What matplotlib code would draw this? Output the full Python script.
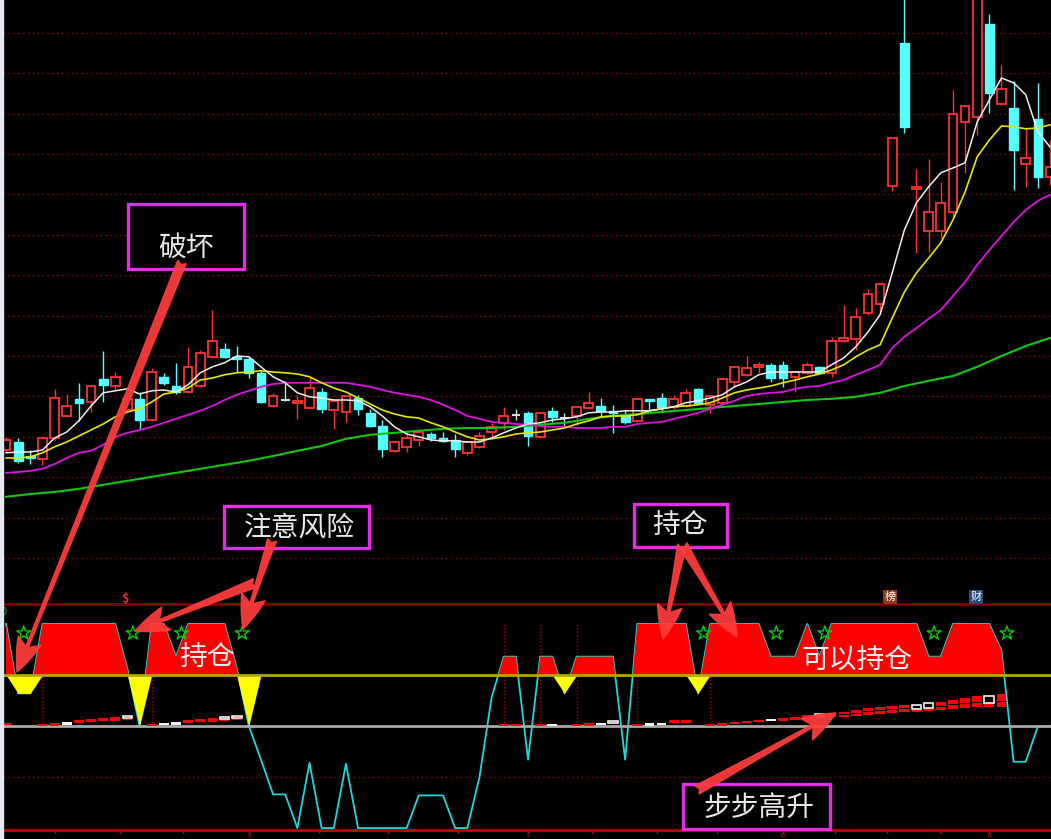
import numpy as np
import matplotlib
matplotlib.use("Agg")
import matplotlib.pyplot as plt
from matplotlib.patches import Rectangle

plt.rcParams['font.family'] = ['Noto Sans CJK SC', 'DejaVu Sans']

# ---- 主图 K线 (开 高 低 收) ----
opens = [3.75, 3.95, 3.60, 3.53, 4.05, 4.60, 5.03, 4.95, 5.53, 5.35,
         4.75, 5.03, 4.50, 5.58, 5.35, 5.20, 5.35, 6.08, 6.28, 6.08,
         6.03, 5.68, 4.85, 5.00, 4.93, 4.80, 5.20, 4.75, 4.70, 5.05,
         4.68, 4.35, 3.73, 3.83, 4.00, 4.15, 4.05, 4.00, 3.68, 3.83,
         4.20, 4.43, 4.63, 4.68, 4.08, 4.73, 4.55, 4.60, 4.80, 4.85,
         4.73, 4.60, 4.48, 5.03, 5.05, 4.83, 4.85, 5.28, 4.88, 4.93,
         5.45, 5.63, 5.83, 5.88, 5.88, 5.58, 5.68, 5.83, 5.68, 6.48,
         6.53, 7.18, 7.40, 10.35, 13.93, 10.28, 9.23, 9.23, 9.70, 11.95,
         12.08, 14.40, 12.40, 12.30, 10.90, 12.03, 10.58]
highs = [4.08, 4.05, 3.75, 4.10, 5.28, 5.15, 5.43, 5.38, 6.23, 5.70,
         5.08, 5.20, 5.80, 5.68, 5.93, 6.33, 6.25, 7.25, 6.43, 6.35,
         6.08, 5.75, 5.18, 5.48, 5.13, 5.58, 5.30, 5.00, 5.13, 5.13,
         4.78, 4.50, 3.98, 4.20, 4.28, 4.20, 4.20, 4.15, 3.98, 4.20,
         4.43, 4.83, 4.78, 4.73, 4.70, 4.83, 4.68, 4.85, 5.20, 5.05,
         4.88, 4.75, 5.05, 5.03, 5.18, 5.13, 5.28, 5.30, 5.10, 5.55,
         5.85, 6.10, 5.95, 5.93, 5.98, 5.73, 5.95, 5.85, 6.58, 7.38,
         7.30, 7.78, 7.93, 11.58, 15.50, 10.78, 11.03, 10.45, 12.75, 12.38,
         15.75, 14.65, 13.38, 12.98, 11.80, 12.93, 11.50]
lows = [3.70, 3.43, 3.40, 3.38, 4.00, 4.58, 4.48, 4.70, 4.95, 5.25,
        4.70, 4.28, 4.48, 5.38, 5.15, 5.18, 5.33, 6.05, 6.05, 5.68,
        5.55, 4.93, 4.83, 4.98, 4.53, 4.78, 4.68, 4.28, 4.45, 4.63,
        4.33, 3.58, 3.70, 3.70, 3.85, 3.98, 3.95, 3.58, 3.63, 3.80,
        4.08, 4.25, 4.50, 3.85, 4.05, 4.45, 4.35, 4.38, 4.78, 4.58,
        4.18, 4.40, 4.45, 4.75, 4.70, 4.78, 4.83, 4.90, 4.68, 4.90,
        5.33, 5.60, 5.68, 5.45, 5.33, 5.20, 5.65, 5.65, 5.58, 6.45,
        6.25, 7.13, 7.18, 10.23, 11.68, 8.68, 8.70, 9.05, 9.58, 10.68,
        11.63, 12.18, 12.38, 10.25, 10.33, 10.30, 10.38]
closes = [4.00, 3.48, 3.55, 4.05, 5.05, 4.85, 4.93, 5.35, 5.38, 5.58,
          5.03, 4.50, 5.70, 5.43, 5.20, 5.83, 6.18, 6.48, 6.08, 6.03,
          5.68, 4.95, 5.10, 5.00, 4.98, 5.30, 4.78, 4.98, 5.10, 4.78,
          4.35, 3.78, 3.95, 4.05, 4.20, 4.05, 3.98, 3.78, 3.95, 4.10,
          4.33, 4.60, 4.63, 4.10, 4.68, 4.58, 4.55, 4.83, 4.93, 4.73,
          4.68, 4.45, 5.03, 4.98, 4.83, 5.03, 5.18, 4.93, 5.10, 5.53,
          5.83, 5.80, 5.88, 5.55, 5.55, 5.70, 5.88, 5.68, 6.48, 6.55,
          7.08, 7.65, 7.90, 11.55, 11.83, 10.33, 9.70, 9.93, 12.15, 12.35,
          15.25, 12.68, 12.78, 11.25, 11.05, 10.58, 10.83]

# 均线
ma5 = [3.68, 3.70, 3.70, 3.75, 4.05, 4.20, 4.48, 4.85, 5.18, 5.23,
       5.28, 5.15, 5.23, 5.25, 5.20, 5.38, 5.68, 5.83, 5.93, 6.10,
       6.08, 5.83, 5.58, 5.43, 5.18, 5.08, 5.05, 5.00, 5.00, 4.98,
       4.83, 4.60, 4.33, 4.15, 4.08, 4.00, 3.98, 3.98, 3.95, 3.95,
       4.05, 4.18, 4.30, 4.40, 4.43, 4.50, 4.53, 4.58, 4.68, 4.70,
       4.70, 4.73, 4.73, 4.73, 4.78, 4.83, 4.93, 4.98, 5.05, 5.13,
       5.33, 5.45, 5.63, 5.70, 5.70, 5.70, 5.70, 5.70, 5.88, 6.05,
       6.33, 6.70, 7.13, 8.18, 9.25, 9.93, 10.33, 10.68, 10.80, 10.93,
       11.95, 12.50, 13.05, 12.93, 12.63, 11.70, 11.33]
ma10 = [3.55, 3.55, 3.58, 3.68, 3.83, 3.95, 4.10, 4.25, 4.40, 4.58,
        4.70, 4.78, 4.95, 5.15, 5.20, 5.30, 5.50, 5.55, 5.63, 5.68,
        5.70, 5.73, 5.70, 5.68, 5.65, 5.58, 5.43, 5.30, 5.20, 5.05,
        4.90, 4.75, 4.65, 4.58, 4.55, 4.43, 4.33, 4.20, 4.08, 4.00,
        4.03, 4.08, 4.15, 4.18, 4.20, 4.25, 4.30, 4.40, 4.48, 4.58,
        4.60, 4.60, 4.63, 4.73, 4.78, 4.83, 4.85, 4.88, 4.93, 5.05,
        5.18, 5.25, 5.30, 5.35, 5.43, 5.50, 5.58, 5.65, 5.75, 5.88,
        6.08, 6.25, 6.38, 7.05, 7.70, 8.18, 8.55, 8.93, 9.50, 10.20,
        11.08, 11.50, 11.85, 11.83, 11.78, 11.80, 11.88]
ma30 = [3.18, 3.20, 3.23, 3.28, 3.40, 3.55, 3.68, 3.73, 3.88, 4.08,
        4.18, 4.25, 4.33, 4.43, 4.53, 4.63, 4.73, 4.85, 5.00, 5.13,
        5.23, 5.33, 5.40, 5.43, 5.43, 5.43, 5.43, 5.43, 5.43, 5.38,
        5.33, 5.25, 5.18, 5.13, 5.08, 5.00, 4.88, 4.75, 4.60, 4.53,
        4.45, 4.43, 4.40, 4.38, 4.35, 4.33, 4.33, 4.30, 4.30, 4.30,
        4.33, 4.33, 4.40, 4.43, 4.45, 4.53, 4.60, 4.68, 4.78, 4.88,
        4.98, 5.10, 5.15, 5.18, 5.20, 5.28, 5.33, 5.35, 5.43, 5.50,
        5.63, 5.75, 5.88, 6.30, 6.58, 6.80, 7.03, 7.25, 7.60, 7.95,
        8.38, 8.75, 9.10, 9.45, 9.75, 9.98, 10.13]
ma60_idx = list(range(0, 87, 2))
ma60 = [2.58, 2.65, 2.70, 2.78, 2.88, 2.98, 3.08, 3.18, 3.28, 3.38,
        3.48, 3.60, 3.73, 3.85, 4.03, 4.13, 4.18, 4.23, 4.28, 4.30,
        4.30, 4.33, 4.38, 4.43, 4.53, 4.60, 4.65, 4.70, 4.75, 4.80,
        4.85, 4.90, 4.95, 5.00, 5.03, 5.08, 5.18, 5.35, 5.48, 5.60,
        5.83, 6.10, 6.35, 6.55]

grid_levels = [14.18, 13.17, 12.16, 11.15, 10.14, 9.13, 8.12,
               7.11, 6.10, 5.09, 4.08, 3.07, 2.06, 1.05]

# ---- 副图 ----
trend = [100, 32, 32, 100, 100, 100, 100, 100, 100, 100,
         56, 0, 100, 100, 68, 100, 100, 100, 100, 57,
         0, -33, -67, -67, -100, -36, -100, -100, -37, -100,
         -100, -100, -100, -100, -68, -68, -68, -100, -100, -50,
         28, 68, 68, -33, 68, 68, 32, 68, 68, 68,
         68, -33, 100, 100, 100, 100, 100, 32, 100, 100,
         100, 100, 100, 68, 68, 68, 100, 68, 100, 100,
         100, 100, 100, 100, 100, 100, 68, 68, 100, 100,
         100, 100, 74, -35, -35, 0, 0]
warn_idx = [1, 2, 11, 20, 46, 57]
warn_val = [32, 32, 0, 0, 32, 32]
star_idx = [1, 10, 14, 19, 57, 63, 67, 76, 82]
start_idx = [3, 12, 41, 44, 47, 52, 58]

step_idx = [0, 3, 4, 5, 6, 7, 8, 9, 10,
            12, 13, 14, 15, 16, 17, 18, 19,
            41, 42, 44, 45, 47, 48, 49, 50,
            52, 53, 54, 55, 56,
            58, 59, 60, 61, 62, 63, 64, 65, 66, 67, 68, 69, 70,
            71, 72, 73, 74, 75, 76, 77, 78, 79, 80, 81, 82]
step_lo = [1, 0, 0, 1, 3, 4, 5, 5, 6,
           0, 1, 1, 3, 4, 4, 5, 6,
           0, 0, 0, 0, 0, 0, 1, 2,
           0, 0, 1, 3, 3,
           0, 0, 2, 3, 4, 5, 5, 6, 7, 8, 9, 9, 10,
           11, 12, 13, 14, 14, 15, 16, 17, 18, 19, 19, 19]
step_hi = [3, 2, 3, 4, 6, 7, 8, 9, 10,
           2, 3, 4, 6, 7, 8, 9, 10,
           2, 2, 2, 2, 2, 3, 3, 5,
           2, 3, 3, 6, 6,
           2, 3, 4, 5, 6, 7, 8, 9, 11, 12, 13, 14, 16,
           18, 19, 20, 21, 21, 23, 24, 26, 27, 29, 29, 31]
# 0 红  1 白  2 白框
step_kind = [0, 0, 0, 1, 0, 0, 0, 0, 2,
             0, 1, 1, 0, 0, 0, 2, 2,
             0, 0, 0, 1, 0, 0, 1, 2,
             0, 1, 1, 0, 0,
             0, 0, 0, 0, 0, 1, 0, 0, 0, 2, 0, 0, 0,
             0, 0, 0, 0, 2, 2, 0, 0, 0, 0, 2, 0]

tick_pos = [4, 9.4, 14.6, 20, 25.8, 31.5, 37.2, 43, 48.3, 53.6, 58.6, 64, 68.3, 72.6, 76.9, 81]
tick_lab = ['', '', '', '8', '', '', '', '9', '', '', '', '10', '', '', '', '11']

W, H = 1051, 839
fig = plt.figure(figsize=(W / 100, H / 100), dpi=100, facecolor='black')
fig.patches.append(Rectangle((0, 0), 3 / W, 1, transform=fig.transFigure,
                             color='#e4eaf0', zorder=0))

xl = (-0.25, 86.08)
ax = fig.add_axes([3 / W, 1 - 604 / H, 1 - 3 / W, 604 / H])
ax.set_facecolor('black')
ax.set_xlim(*xl)
ax.set_ylim(-0.1, 15)
ax.axis('off')

for g in grid_levels:
    ax.axhline(g, color='#8a0000', lw=1, ls=(0, (1, 2.5)), zorder=0)

x = np.arange(len(closes))
for i in x:
    o, h, l, c = opens[i], highs[i], lows[i], closes[i]
    if c > o:
        col = '#ff3030'
        ax.vlines(i, l, h, color=col, lw=1, zorder=1)
        ax.add_patch(Rectangle((i - 0.36, o), 0.72, c - o, facecolor='black',
                               edgecolor=col, lw=1.3, zorder=2))
    elif c < o:
        col = '#54ffff'
        ax.vlines(i, l, h, color=col, lw=1, zorder=1)
        ax.add_patch(Rectangle((i - 0.36, c), 0.72, o - c, facecolor=col,
                               edgecolor=col, lw=1, zorder=2))
    else:
        col = '#d8d8d8'
        ax.vlines(i, l, h, color=col, lw=1, zorder=1)
        ax.hlines(c, i - 0.36, i + 0.36, color=col, lw=1.5, zorder=2)

ax.plot(ma60_idx, ma60, color='#10c810', lw=1.5, zorder=3)
ax.plot(x, ma30, color='#e010e0', lw=1.3, zorder=3)
ax.plot(x, ma10, color='#e6e600', lw=1.2, zorder=3)
ax.plot(x, ma5, color='#eeeeee', lw=1.1, zorder=3)

# 副图
ax2 = fig.add_axes([3 / W, 9 / H, 1 - 3 / W, 226 / H])
ax2.set_facecolor('black')
ax2.set_xlim(*xl)
ax2.set_ylim(-101.9, 119.6)
ax2.set_yticks([])
for s in ['left', 'right']:
    ax2.spines[s].set_visible(False)
ax2.spines['top'].set_color('#800000')
ax2.spines['top'].set_linewidth(2)
ax2.spines['bottom'].set_color('#c00000')
ax2.spines['bottom'].set_linewidth(2)
ax2.set_xticks(tick_pos)
ax2.set_xticklabels(tick_lab)
ax2.tick_params(axis='x', colors='#d01010', length=2, width=1, labelsize=4, pad=0)

tr = np.array(trend, dtype=float)
warn = np.full(len(tr), 50.0)
warn[warn_idx] = warn_val

ax2.axhline(-50, color='#8a0000', lw=1, ls=(0, (1, 2.5)), zorder=0)
ax2.vlines(start_idx, 0, 100, color='#a00000', lw=1, ls=(0, (1, 1.5)), zorder=1)
ax2.plot(x, tr, color='#20d8d8', lw=1.3, zorder=2)
ax2.fill_between(x, tr, 50, where=tr >= 50, interpolate=True, color='#ff0000', lw=0, zorder=3)
ax2.fill_between(x, warn, 50, color='#ffff00', lw=0, zorder=4)
ax2.axhline(50, color='#b0a800', lw=2, zorder=5)
ax2.axhline(0, color='#a8a8a8', lw=2, zorder=5)

for i, lo, hi, k in zip(step_idx, step_lo, step_hi, step_kind):
    if k == 0:
        ax2.bar(i, hi - lo, bottom=lo, width=0.8, color='#ff0000', zorder=6)
        if hi - lo >= 5:
            ax2.hlines((lo + hi) / 2, i - 0.4, i + 0.4, color='black', lw=0.8, zorder=7)
    elif k == 1:
        ax2.bar(i, hi - lo, bottom=lo, width=0.8, color='#f2f2f2', zorder=6)
    else:
        mid = lo + (hi - lo) * 0.35
        ax2.bar(i, mid - lo, bottom=lo, width=0.8, color='#ff0000', zorder=6)
        ax2.bar(i, hi - mid, bottom=mid, width=0.8, facecolor='black',
                edgecolor='#f2f2f2', lw=1.2, zorder=7)

ax2.scatter(np.array(star_idx) + 0.45, np.full(len(star_idx), 91), marker='*', s=110,
            facecolors='none', edgecolors='#00d000', linewidths=1, zorder=8)

# 标注层 (像素坐标)
ov = fig.add_axes([0, 0, 1, 1])
ov.set_xlim(0, W)
ov.set_ylim(H, 0)
ov.axis('off')
ov.patch.set_alpha(0)

ov.text(207, 657, '持仓', fontsize=20, color='#f4f4f4', ha='center', va='center')
ov.text(857, 660, '可以持仓', fontsize=20, color='#f4f4f4', ha='center', va='center')

boxes = [(128, 204, 244, 269, '破坏', 186, 248),
         (224, 506, 369, 548, '注意风险', 299, 528),
         (634, 504, 727, 547, '持仓', 680, 525),
         (683, 784, 830, 829, '步步高升', 759, 808)]
for x0, y0, x1, y1, s, tx, ty in boxes:
    ov.add_patch(Rectangle((x0, y0), x1 - x0, y1 - y0, facecolor='black',
                           edgecolor='#e62ae6', lw=2.4, zorder=5))
    ov.text(tx, ty, s, fontsize=20, color='#e8e8e8', ha='center', va='center', zorder=6)

arrows = [((182, 262), (17, 672)),
          ((272, 540), (243, 629)),
          ((255, 583), (135, 631)),
          ((682, 545), (663, 639)),
          ((683, 545), (737, 637)),
          ((697, 790), (836, 713))]
for tail, tip in arrows:
    ov.annotate('', xy=tip, xytext=tail, zorder=7,
                arrowprops=dict(arrowstyle='fancy,head_length=1.1,head_width=0.8,tail_width=0.3',
                                color='#ff3c3c', alpha=0.92, mutation_scale=22,
                                shrinkA=0, shrinkB=0))

ov.text(125, 598, '$', fontsize=9, color='#ff2020', fontweight='bold', ha='center', va='center')
ov.text(890, 597, '榜', fontsize=8, color='white', ha='center', va='center',
        bbox=dict(boxstyle='square,pad=0.15', facecolor='#8b3a1a', edgecolor='none'))
ov.text(976, 597, '财', fontsize=8, color='white', ha='center', va='center',
        bbox=dict(boxstyle='square,pad=0.15', facecolor='#2a4a7a', edgecolor='none'))
ov.text(4, 612, '0', fontsize=8, color='#00c000', ha='center', va='center')

fig.savefig('out.png', dpi=100, facecolor='black')
